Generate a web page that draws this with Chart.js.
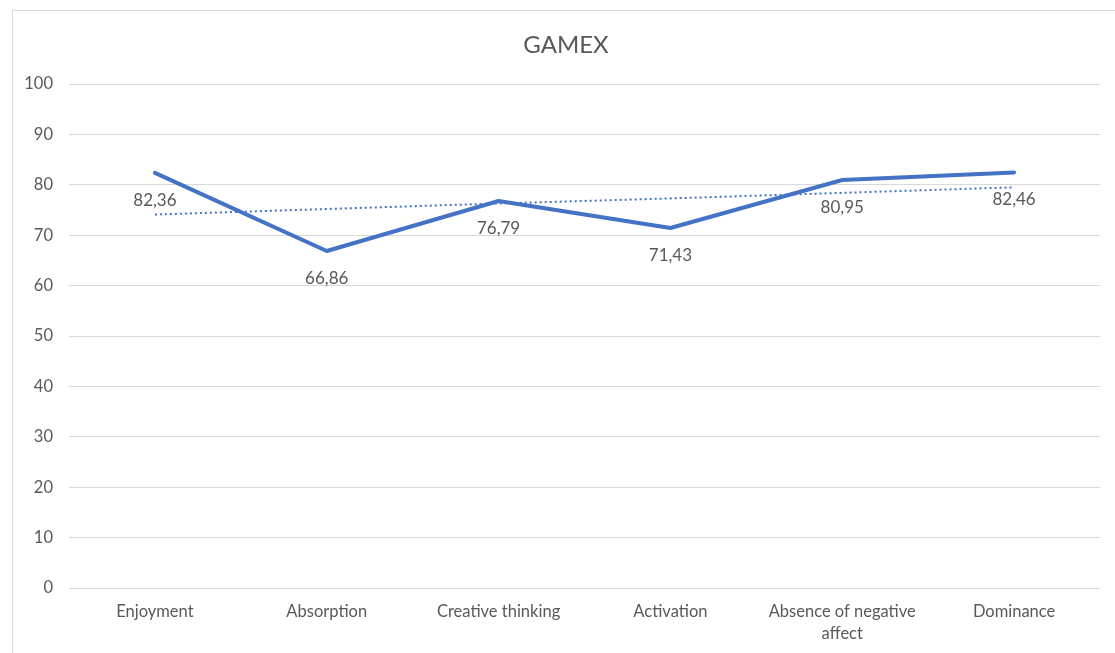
<!DOCTYPE html>
<html>
<head>
<meta charset="utf-8">
<script src="https://cdn.jsdelivr.net/npm/chart.js@4/dist/chart.umd.min.js"></script>
<style>
  html, body { margin: 0; padding: 0; background: #ffffff; overflow: hidden; }
  #wrap { position: absolute; left: 0; top: 0; width: 1115px; height: 653px; }
  #frame { position: absolute; left: 12px; top: 10px; width: 1120px; height: 660px; border: 1px solid #d9d9d9; box-sizing: border-box; }
  canvas { position: absolute; left: 0; top: 0; }
</style>
</head>
<body>
<div id="wrap">
  <div id="frame"></div>
  <canvas id="c" width="1115" height="653"></canvas>
</div>
<script>
const chartTitle = 'GAMEX';
const categories = ['Enjoyment', 'Absorption', 'Creative thinking', 'Activation', ['Absence of negative', 'affect'], 'Dominance'];
const gamexValues = [82.36, 66.86, 76.79, 71.43, 80.95, 82.46];
const trendValues = [74.1, 75.2, 76.3, 77.3, 78.4, 79.5];
const valueLabels = ['82,36', '66,86', '76,79', '71,43', '80,95', '82,46'];
const yTicks = [0, 10, 20, 30, 40, 50, 60, 70, 80, 90, 100];

const FONT = 'Lato, "Open Sans", sans-serif';
const TEXT = '#595959';
const BLUE = '#4472C4';

const textPlugin = {
  id: 'textLayer',
  afterDatasetsDraw(chart) {
    const meta = chart.getDatasetMeta(0);
    const ctx = chart.ctx;
    ctx.save();
    ctx.fillStyle = TEXT;
    ctx.textAlign = 'center';
    ctx.textBaseline = 'middle';
    ctx.font = '17px ' + FONT;
    meta.data.forEach((pt, i) => {
      ctx.fillText(valueLabels[i], pt.x, pt.y + 27.5);
    });
    ctx.font = '24px ' + FONT;
    ctx.fillText(chartTitle, 566, 45);
    ctx.restore();
  }
};

new Chart(document.getElementById('c'), {
  type: 'line',
  data: {
    labels: categories,
    datasets: [
      {
        label: 'GAMEX',
        data: gamexValues,
        borderColor: BLUE,
        borderWidth: 4,
        pointRadius: 0,
        tension: 0,
        fill: false,
        borderCapStyle: 'round',
        borderJoinStyle: 'round'
      },
      {
        label: 'Trend',
        data: trendValues,
        borderColor: BLUE,
        borderWidth: 2,
        borderDash: [2, 3],
        pointRadius: 0,
        tension: 0,
        fill: false
      }
    ]
  },
  options: {
    responsive: false,
    animation: false,
    devicePixelRatio: 1,
    layout: { padding: { left: 0, right: 15, top: 84, bottom: 0 } },
    plugins: {
      legend: { display: false },
      tooltip: { enabled: false },
      title: { display: false }
    },
    scales: {
      x: {
        offset: true,
        grid: { display: false, drawTicks: false },
        border: { display: false },
        ticks: {
          color: TEXT,
          font: { family: FONT, size: 16.5, lineHeight: 1.33 },
          padding: 13,
          maxRotation: 0,
          autoSkip: false
        },
        afterFit(scale) { scale.height = 65; }
      },
      y: {
        min: 0,
        max: 100,
        afterBuildTicks(scale) { scale.ticks = yTicks.map(v => ({ value: v })); },
        grid: { color: '#d9d9d9', lineWidth: 1, drawTicks: false },
        border: { display: false },
        ticks: {
          color: TEXT,
          font: { family: FONT, size: 16.5 },
          padding: 16
        },
        afterFit(scale) { scale.width = 69; }
      }
    }
  },
  plugins: [textPlugin]
});
</script>
</body>
</html>
